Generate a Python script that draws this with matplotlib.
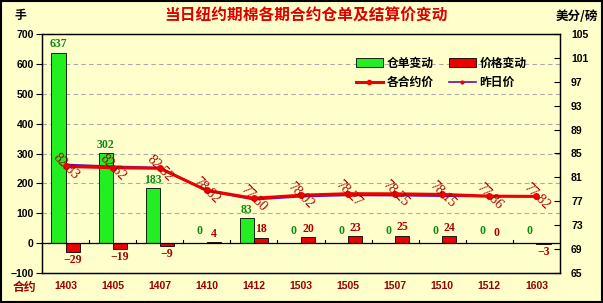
import matplotlib
matplotlib.use("Agg")
import matplotlib.pyplot as plt
from matplotlib.patches import Rectangle
from matplotlib.lines import Line2D
from matplotlib.patches import Patch
import numpy as np

plt.rcParams['font.family'] = ['Liberation Sans', 'Noto Sans CJK SC', 'DejaVu Sans']

contracts = ['1403', '1405', '1407', '1410', '1412', '1503', '1505', '1507', '1510', '1512', '1603']
warrant_change = [637, 302, 183, 0, 83, 0, 0, 0, 0, 0, 0]
price_change = [-29, -19, -9, 4, 18, 20, 23, 25, 24, 0, -3]
price_today = [82.83, 82.62, 82.52, 78.82, 77.50, 78.02, 78.27, 78.25, 78.15, 77.86, 77.82]
price_yesterday = [83.12, 82.81, 82.61, 78.78, 77.32, 77.82, 78.04, 78.00, 77.91, 77.86, 77.85]
left_ticks = [-100, 0, 100, 200, 300, 400, 500, 600, 700]
right_ticks = [65, 69, 73, 77, 81, 85, 89, 93, 97, 101, 105]

BG = '#FFFFCC'
GREEN = '#22EE22'
RED = '#EE0000'
LBL_GREEN = '#118811'
LBL_RED = '#AA0000'
CJK = ['Noto Sans CJK SC', 'DejaVu Sans']

fig = plt.figure(figsize=(6.03, 3.03), dpi=100, facecolor=BG)
ax = fig.add_axes([42/603, (303-273)/303, (560-42)/603, (273-34)/303])
ax.set_facecolor(BG)
ax2 = ax.twinx()

x = np.arange(len(contracts))
w = 0.30
ax.bar(x - w/2, warrant_change, w, color=GREEN, edgecolor='black', linewidth=0.6, zorder=3)
ax.bar(x + w/2, price_change, w, color=RED, edgecolor='black', linewidth=0.6, zorder=3)

ax.set_ylim(-100, 700)
ax.set_xlim(-0.5, len(contracts) - 0.5)
ax.set_yticks(left_ticks)
ax.set_yticklabels([str(t).replace('-', '\u2212') for t in left_ticks], fontsize=7.5, fontweight='bold')
for t in left_ticks[2:-1]:
    ax.axhline(t, color='#AAAAAA', linestyle=(0, (4, 3)), linewidth=0.8, zorder=1)
ax.axhline(0, color='black', linewidth=0.9, zorder=4)
for b in np.arange(0.5, len(contracts) - 0.5, 1.0):
    ax.plot([b, b], [0, 12], color='black', linewidth=0.8, zorder=4)
ax.tick_params(axis='y', direction='out', length=4, width=0.8, pad=2)
ax.set_xticks(x)
ax.set_xticklabels(contracts, fontsize=7.5, fontweight='bold', color='#990000')
ax.tick_params(axis='x', length=0, pad=6)

# data labels for bars
for i, v in enumerate(warrant_change):
    yy = 40 if v == 0 else v + 28
    ax.text(x[i] - w/2, yy, str(v), ha='center', va='center', fontsize=8.5, color=LBL_GREEN,
            family='Liberation Serif', fontweight='bold')
for i, v in enumerate(price_change):
    txt = str(v).replace('-', '\u2212')
    if v < 0:
        yy = v - 27
    elif v == 0:
        yy = 35
    else:
        yy = v + 28
    ax.text(x[i] + w/2, yy, txt, ha='center', va='center', fontsize=8.5, color=LBL_RED,
            family='Liberation Serif', fontweight='bold')

ax2.set_ylim(65, 105)
ax2.set_yticks(right_ticks)
ax2.set_yticklabels([str(t) for t in right_ticks], fontsize=7.5, fontweight='bold')
ax2.tick_params(axis='y', direction='in', length=4, width=0.8, pad=8)
ax2.plot(x, price_yesterday, color='#6A0DAD', linewidth=1.6, marker='o', markersize=2,
         markerfacecolor=RED, markeredgecolor=RED, zorder=5)
ax2.plot(x, price_today, color=RED, linewidth=2.2, marker='o', markersize=4,
         markerfacecolor=RED, markeredgecolor=RED, zorder=6)
for i, v in enumerate(price_today):
    ax2.text(x[i], v, f'{v:.2f}', ha='center', va='center', rotation=-45, fontsize=10,
             color=LBL_RED, family='Liberation Serif', zorder=7, rotation_mode='anchor')

for a in (ax, ax2):
    for s in a.spines.values():
        s.set_linewidth(0.9)
        s.set_color('black')

# legend
handles = [Patch(facecolor=GREEN, edgecolor='black', linewidth=0.6),
           Line2D([0], [0], color=RED, linewidth=2.2, marker='o', markersize=3),
           Patch(facecolor=RED, edgecolor='black', linewidth=0.6),
           Line2D([0], [0], color='#6A0DAD', linewidth=1.2, marker='o', markersize=2,
                  markerfacecolor=RED, markeredgecolor=RED)]
labels = ['仓单变动', '各合约价', '价格变动', '昨日价']
leg = ax2.legend(handles, labels, ncol=2, loc='upper left', bbox_to_anchor=(0.585, 0.95),
                 frameon=False, prop={'family': CJK, 'size': 8.5, 'weight': 'bold'},
                 handlelength=2.3, handleheight=0.7, columnspacing=1.3, labelspacing=0.55,
                 handletextpad=0.3)

fig.text(0.508, 0.95, '当日纽约期棉各期合约仓单及结算价变动', ha='center', va='center',
         fontsize=11.3, color='#DD0000', fontweight='bold', family=CJK)
fig.text(0.033, 0.95, '手', ha='center', va='center', fontsize=8.5, fontweight='bold', family=CJK)
fig.text(0.956, 0.945, '美分/磅', ha='center', va='center', fontsize=9, fontweight='bold', family=CJK)
fig.text(0.04, 0.052, '合约', ha='center', va='center', fontsize=8.5, fontweight='bold',
         color='#990000', family=CJK)

fig.patches.append(Rectangle((0.001, 0.002), 0.997, 0.995, transform=fig.transFigure,
                             fill=False, edgecolor='black', linewidth=1.5))

fig.savefig('out.png', dpi=100, facecolor=BG)
